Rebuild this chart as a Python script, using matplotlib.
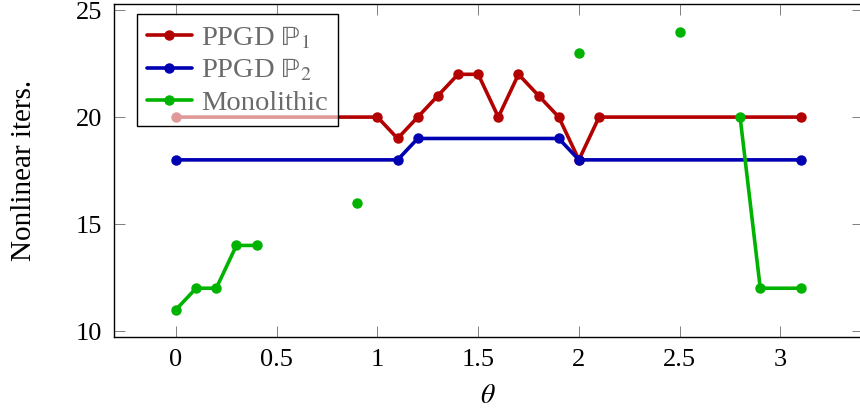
import numpy as np
import matplotlib
matplotlib.use("Agg")
import matplotlib.pyplot as plt

# Data
theta_p1 = [0.0, 1.0, 1.1, 1.2, 1.3, 1.4, 1.5, 1.6, 1.7, 1.8, 1.9, 2.0, 2.1, 3.1]
iters_p1 = [20, 20, 19, 20, 21, 22, 22, 20, 22, 21, 20, 18, 20, 20]

theta_p2 = [0.0, 1.1, 1.2, 1.9, 2.0, 3.1]
iters_p2 = [18, 18, 19, 19, 18, 18]

# NaN entries break the line (missing runs)
theta_mono = [0.0, 0.1, 0.2, 0.3, 0.4, 0.5, 0.9, 1.0, 2.0, 2.1, 2.5, 2.6, 2.8, 2.9, 3.1]
iters_mono = [11, 12, 12, 14, 14, np.nan, 16, np.nan, 23, np.nan, 24, np.nan, 20, 12, 12]

x_ticks = [0, 0.5, 1, 1.5, 2, 2.5, 3]
x_ticklabels = ['0', '0.5', '1', '1.5', '2', '2.5', '3']
y_ticks = [10, 15, 20, 25]

RED = '#b30000'
BLUE = '#0000b3'
GREEN = '#00b300'

plt.rcParams['font.family'] = ['Liberation Serif', 'DejaVu Serif']
plt.rcParams['mathtext.fontset'] = 'stix'

fig = plt.figure(figsize=(8.6, 4.13), dpi=100)
ax = fig.add_axes([0.132, 0.183, 0.8715, 0.808])

style = dict(marker='o', markersize=6.5, linewidth=2.6, solid_capstyle='round')
# \mathrm around \mathbb keeps the double-struck P upright
ax.plot(theta_p1, iters_p1, color=RED, label=r'PPGD $\mathrm{\mathbb{P}}_1$', **style)
ax.plot(theta_p2, iters_p2, color=BLUE, label=r'PPGD $\mathrm{\mathbb{P}}_2$', **style)
ax.plot(theta_mono, iters_mono, color=GREEN, label='Monolithic', **style)

ax.set_xlim(-0.31, 3.41)
ax.set_ylim(9.7, 25.3)
ax.set_xticks(x_ticks)
ax.set_xticklabels(x_ticklabels)
ax.set_yticks(y_ticks)

ax.tick_params(direction='in', length=8, width=0.7, color='#808080',
               top=True, right=True, labelsize=19, pad=8)
for sp in ax.spines.values():
    sp.set_linewidth(1.0)
    sp.set_color('black')

ax.set_xlabel(r'$\theta$', fontsize=20, labelpad=10)
ax.set_ylabel('Nonlinear iters.', fontsize=21, labelpad=28)

# Semi-transparent white legend with opaque black frame
leg = ax.legend(loc='upper left', bbox_to_anchor=(0.031, 0.968), fontsize=20.5,
                fancybox=False, borderpad=0.35, labelspacing=0.22,
                handlelength=1.6, handletextpad=0.3, borderaxespad=0)
frame = leg.get_frame()
frame.set_alpha(None)
frame.set_facecolor((1, 1, 1, 0.6))
frame.set_edgecolor('black')
frame.set_linewidth(1.0)
for txt in leg.get_texts():
    txt.set_color('#6a6a6a')

fig.savefig('out.png', dpi=100)
